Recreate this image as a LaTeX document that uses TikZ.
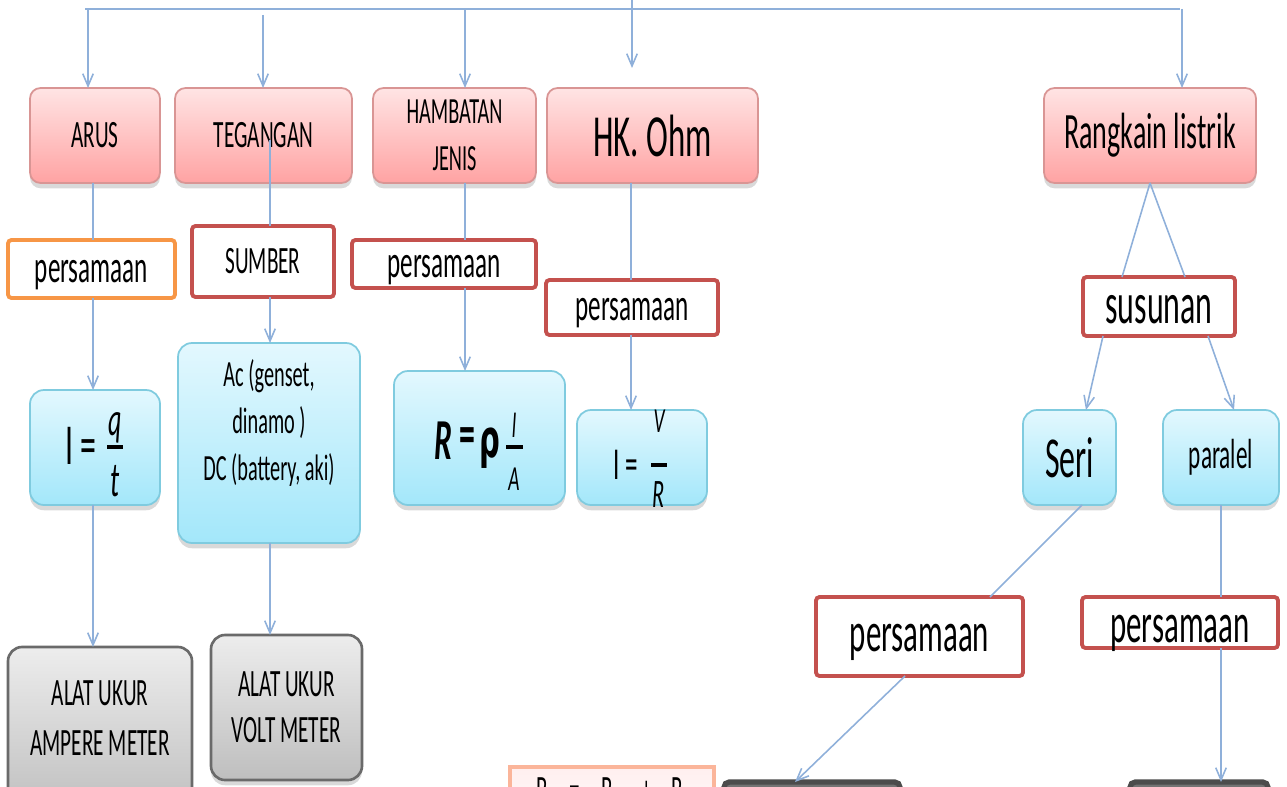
\documentclass[tikz,border=0pt]{standalone}
\usepackage{fontspec}
\setmainfont{Carlito}[FakeStretch=0.55]
\newfontfamily\grk{DejaVu Sans}[FakeStretch=0.55]
\usetikzlibrary{arrows.meta,shadows}
\definecolor{pinktop}{HTML}{FFE4E4}
\definecolor{pinkbot}{HTML}{FFA3A3}
\definecolor{pinkedge}{HTML}{D99594}
\definecolor{bluetop}{HTML}{E3F8FE}
\definecolor{bluebot}{HTML}{A3E7FA}
\definecolor{blueedge}{HTML}{7FCBDF}
\definecolor{graytop}{HTML}{EDEDED}
\definecolor{graybot}{HTML}{BEBEBE}
\definecolor{grayedge}{HTML}{6A6A6A}
\definecolor{redb}{HTML}{C4514E}
\definecolor{orangeb}{HTML}{F79646}
\definecolor{orangel}{HTML}{FBB59A}
\definecolor{lineblue}{HTML}{8FB0DA}
\newcommand\fsz[2]{\fontsize{#1}{#2}\selectfont}
\newcommand\bx[7]{\node[#6, minimum width={(#4-#2)*0.02cm}, minimum height={(#5-#3)*0.02cm}] (#1) at ({(#2+#4)/2},{(#3+#5)/2}) {#7};}
\newcommand\lowr[2]{\raisebox{-#1}[\height][\depth]{#2}}
\begin{document}
\begin{tikzpicture}[x=0.02cm,y=-0.02cm,
  base/.style={inner sep=1pt, outer sep=0pt, align=center, text=black},
  pinkbox/.style={base, rounded corners=6pt, draw=pinkedge, line width=1pt, top color=pinktop, bottom color=pinkbot,
    drop shadow={shadow xshift=0pt, shadow yshift=-3pt, opacity=0.3}},
  bluebox/.style={base, rounded corners=8pt, draw=blueedge, line width=1pt, top color=bluetop, bottom color=bluebot,
    drop shadow={shadow xshift=0pt, shadow yshift=-3pt, opacity=0.3}},
  graybox/.style={base, rounded corners=8pt, draw=grayedge, line width=1.5pt, top color=graytop, bottom color=graybot,
    drop shadow={shadow xshift=0pt, shadow yshift=-3pt, opacity=0.3}},
  redbox/.style={base, rounded corners=2pt, draw=redb, line width=2.2pt, fill=white},
  orangebox/.style={base, rounded corners=2pt, draw=orangeb, line width=2.2pt, fill=white},
  lightbox/.style={base, draw=orangel, line width=2pt, top color=pinktop!60, bottom color=white},
  darkbox/.style={base, rounded corners=3pt, draw=black!70, line width=3pt, fill=black!55},
  ft/.style={inner sep=0pt, outer sep=0pt, text=black},
  conn/.style={draw=lineblue, line width=0.9pt},
  arr/.style={conn, -{Straight Barb[length=7pt,width=6pt]}},
  topline/.style={draw=lineblue, line width=1.5pt}
]
\useasboundingbox (0,0) rectangle (1287,787);
\clip (0,0) rectangle (1287,787);

% ---- row 1 (pink)
\bx{arus}{30}{88}{160}{183}{pinkbox,font=\fsz{22}{26}}{ARUS}
\bx{teg}{175}{88}{352}{183}{pinkbox,font=\fsz{22}{26}}{TEGANGAN}
\bx{ham}{373}{88}{536}{183}{pinkbox,font=\fsz{21}{27}}{HAMBATAN\\JENIS}
\bx{ohm}{547}{88}{758}{183}{pinkbox,font=\fsz{34}{40}}{HK. Ohm}
\bx{rl}{1044}{88}{1256}{183}{pinkbox,font=\fsz{29}{34}}{Rangkain listrik}

% ---- row 2 (label boxes)
\bx{p1}{8}{240}{175}{298}{orangebox,font=\fsz{26}{30}}{\lowr{3.4pt}{persamaan}}
\bx{sumber}{192}{226}{334}{297}{redbox,font=\fsz{22}{26}}{SUMBER}
\bx{p2}{352}{240}{536}{288}{redbox,font=\fsz{26}{30}}{\lowr{3.4pt}{persamaan}}
\bx{p3}{546}{280}{718}{335}{redbox,font=\fsz{26}{30}}{\lowr{3pt}{persamaan}}
\bx{sus}{1083}{277}{1235}{336}{redbox,font=\fsz{33}{38}}{\lowr{1.5pt}{susunan}}

% ---- row 3 (blue)
\bx{fq}{30}{390}{160}{505}{bluebox}{}
\bx{ac}{178}{343}{360}{543}{bluebox}{}
\bx{fr}{394}{371}{565}{505}{bluebox}{}
\bx{fv}{577}{410}{707}{505}{bluebox}{}
\bx{seri}{1023}{410}{1116}{505}{bluebox,font=\fsz{33}{38}}{Seri}
\bx{par}{1163}{410}{1279}{505}{bluebox,font=\fsz{24}{28}}{paralel}

\node[ft,align=center,font=\fsz{21}{27}] (actext) at (269,423) {Ac (genset,\\dinamo )\\DC (battery, aki)};

% formula I = q/t
\node[ft,font=\fsz{33}{33}] (fqI) at (81,446) {I =};
\node[ft,font=\fsz{27}{27}\itshape] (fqq) at (115,428) {q};
\node[ft,font=\fsz{28}{28}\itshape] (fqt) at (115,481) {t};
\draw[line width=2.3pt] (107,447) -- (123,447);

% formula R = rho l/A
\node[ft,font=\fsz{33}{33}\bfseries\itshape] (frR) at (443,441) {R};
\node[ft,font=\fsz{33}{33}\bfseries] (freq) at (467,441) {=};
\node[ft,font=\fsz{30}{30}\grk\bfseries] (frrho) at (490,448) {ρ};
\node[ft,font=\fsz{20}{20}\itshape] (frl) at (514,425) {l};
\node[ft,font=\fsz{20}{20}\itshape] (frA) at (514,479) {A};
\draw[line width=2.3pt] (506,447) -- (523,447);

% formula I = V/R
\node[ft,font=\fsz{26}{26}] (fvI) at (626,465) {I =};
\node[ft,font=\fsz{20}{20}\itshape] (fvV) at (659,421) {V};
\node[ft,font=\fsz{23}{23}\itshape] (fvR) at (659,495) {R};
\draw[line width=2.3pt] (651,465) -- (667,465);

% ---- row 4 (gray)
\bx{amp}{8}{647}{192}{815}{graybox}{}
\node[ft,align=center,font=\fsz{22}{28}] (amptext) at (100,718) {ALAT UKUR\\AMPERE METER};
\bx{volt}{211}{635}{362}{780}{graybox,font=\fsz{22}{26}}{ALAT UKUR\\VOLT METER}

% ---- right lower
\bx{p4}{816}{597}{1023}{676}{redbox,font=\fsz{32}{36}}{\lowr{3.4pt}{persamaan}}
\bx{p5}{1082}{597}{1278}{648}{redbox}{}
\node[ft,font=\fsz{32}{36}] (p5text) at (1180,633) {persamaan};

% ---- bottom cut-off boxes
\bx{rs}{510}{767}{714}{840}{lightbox}{}
\node[ft,anchor=base west,font=\fsz{22}{22}] (rstext) at (536,802) {R\hspace{12.3pt}=\hspace{12.3pt}R\textsubscript{1}\hspace{11.2pt}+\hspace{11.2pt}R\textsubscript{2}};
\bx{d1}{724}{782}{900}{840}{darkbox}{}
\bx{d2}{1130}{782}{1268}{840}{darkbox}{}

% ---- top connectors
\coordinate (tL) at (85,9);
\coordinate (tR) at (1180,9);
\draw[topline] (tL) -- (tR);
\coordinate (c1) at (88,9);
\draw[arr] (c1) -- (c1 |- arus.north);
\coordinate (c2) at (263,15);
\draw[arr] (c2) -- (c2 |- teg.north);
\coordinate (c3) at (465,9);
\draw[arr] (c3) -- (c3 |- ham.north);
\coordinate (c4a) at (632,0);
\coordinate (c4b) at (632,68);
\draw[arr] (c4a) -- (c4b);
\coordinate (c5) at (1182,9);
\draw[arr] (c5) -- (c5 |- rl.north);

% ARUS chain
\coordinate (xa) at (93,0);
\draw[conn] (xa |- arus.south) -- (xa |- p1.north);
\draw[arr] (xa |- p1.south) -- (xa |- fq.north);
\draw[arr] (xa |- fq.south) -- (xa |- amp.north);

% TEGANGAN chain
\coordinate (xt) at (270,140);
\draw[conn] (xt) -- (xt |- sumber.north);
\draw[arr] (xt |- sumber.south) -- (xt |- ac.north);
\draw[arr] (xt |- ac.south) -- (xt |- volt.north);

% HAMBATAN chain
\coordinate (xh) at (465,0);
\draw[conn] (xh |- ham.south) -- (xh |- p2.north);
\draw[arr] (xh |- p2.south) -- (xh |- fr.north);

% HK Ohm chain
\coordinate (xo) at (631,0);
\draw[conn] (xo |- ohm.south) -- (xo |- p3.north);
\draw[arr] (xo |- p3.south) -- (xo |- fv.north);

% Rangkaian chain
\draw[conn] (rl.south) -- ([xshift=-0.74cm]sus.north);
\draw[conn] (rl.south) -- ([xshift=0.52cm]sus.north);
\draw[arr] ([xshift=-1.12cm]sus.south) -- ([xshift=0.33cm]seri.north);
\draw[arr] ([xshift=0.98cm]sus.south) -- ([xshift=0.26cm]par.north);
\draw[conn] ([xshift=0.25cm]seri.south) -- ([xshift=1.41cm]p4.north);
\draw[arr] ([xshift=-0.29cm]p4.south) -- ([xshift=-0.34cm]d1.north);
\draw[conn] (par.south) -- (par.south |- p5.north);
\draw[arr] (par.south |- p5.south) -- (par.south |- d2.north);
\end{tikzpicture}
\end{document}
